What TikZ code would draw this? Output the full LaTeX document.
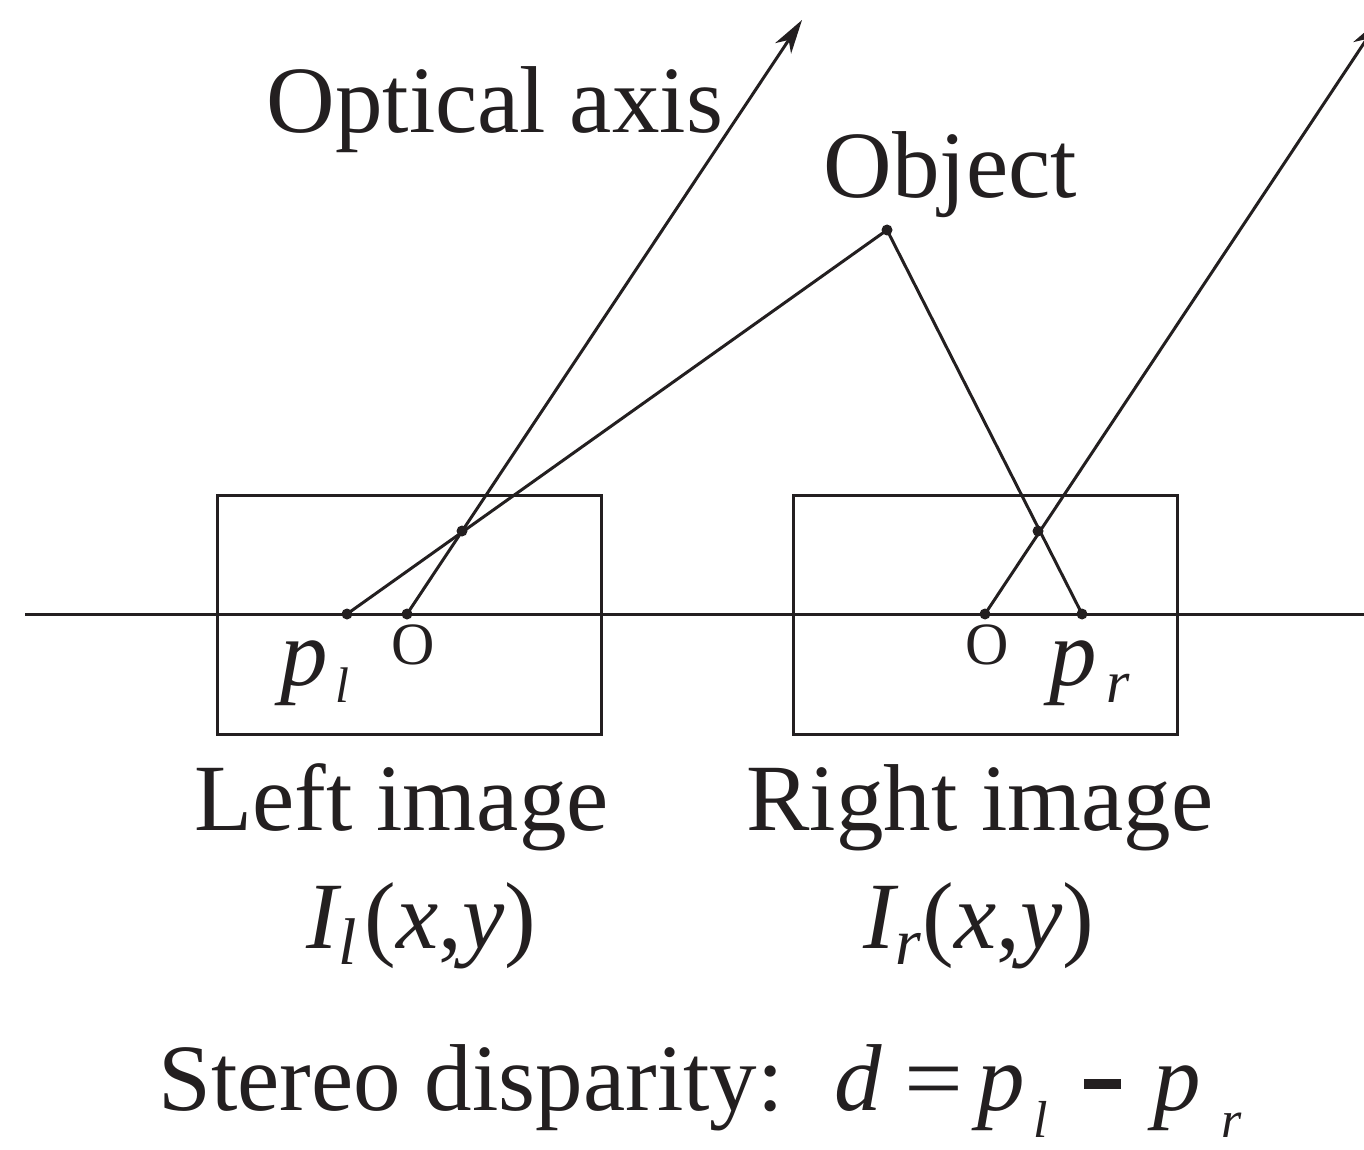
\documentclass[tikz,border=0pt]{standalone}
\usepackage{fontspec}
\setmainfont{Liberation Serif}
\usetikzlibrary{arrows.meta}
\definecolor{ink}{HTML}{231F20}
\newcommand\bigfont{\fontsize{95}{110}\selectfont}
\newcommand\mysub[3]{\raisebox{-#2}{\fontsize{#1}{#1}\selectfont\itshape #3}}
\begin{document}
\begin{tikzpicture}[x=1pt,y=-1pt,line width=3pt,draw=ink,text=ink,
  dot/.style={circle,fill=ink,draw=none,inner sep=0pt,minimum size=11pt},
  lbl/.style={anchor=base west,inner sep=0pt,font=\bigfont},
  olbl/.style={inner sep=0pt,font=\fontsize{60}{64}\selectfont},
  imgbox/.style={draw,inner sep=0pt,anchor=north west,minimum width=384pt,minimum height=239pt},
  axisarrow/.style={-{Stealth[length=34pt,width=19pt,inset=10pt]}}]
\useasboundingbox (0,0) rectangle (1364,1150);
\clip (0,0) rectangle (1364,1150);
% image boxes
\node[imgbox] (lbox) at (216,494) {};
\node[imgbox] (rbox) at (792,494) {};
% baseline
\coordinate (hl) at (25,614);
\coordinate (hr) at (1370,614);
\draw (hl) -- (hr);
% points
\node[dot] (pl) at (347,614) {};
\node[dot] (ol) at (407,614) {};
\node[dot] (il) at (462,531) {};
\node[dot] (obj) at (887,230) {};
\node[dot] (or) at (985,614) {};
\node[dot] (ir) at (1038,531) {};
\node[dot] (pr) at (1082,614) {};
\coordinate (tl) at (802,20);
\coordinate (tr) at (1380,19);
% rays
\draw (pl.center) -- (obj.center) -- (pr.center);
\draw[axisarrow] (ol.center) -- (tl);
\draw[axisarrow] (or.center) -- (tr);
% labels
\node[lbl] (optlbl) at (265,133) {Optical axis};
\node[lbl] (objlbl) at (822,198) {Object};
\node[olbl] (olbl1) at (413,645) {O};
\node[olbl] (olbl2) at (987,645) {O};
\node[lbl] (pllbl) at (279,685) {\itshape p\hspace{7pt}\mysub{50}{17pt}{l}};
\node[lbl] (prlbl) at (1048,685) {\itshape p\hspace{9pt}\mysub{60}{17pt}{r}};
\node[lbl] (leftlbl) at (193,830) {Left image};
\node[lbl] (rightlbl) at (745,830) {Right image};
\node[lbl] (illbl) at (305,948) {\itshape I\mysub{66}{16pt}{l}\hspace{8pt}\upshape(\itshape x\upshape,\itshape y\upshape)};
\node[lbl] (irlbl) at (862,948) {\itshape I\mysub{66}{16pt}{r}\hspace{2pt}\upshape(\itshape x\upshape,\itshape y\upshape)};
\node[lbl] (stlbl) at (157,1110) {Stereo disparity:};
\node[lbl] (eqlbl) at (833,1110) {\itshape d\upshape\hspace{22pt}\scalebox{1.1}[1]{=}\hspace{15pt}\itshape p\hspace{8pt}\mysub{52}{27pt}{l}\hspace{36pt}\upshape\rule[21pt]{37pt}{10pt}\hspace{33pt}\itshape p\hspace{20pt}\mysub{52}{27pt}{r}};
\end{tikzpicture}
\end{document}
